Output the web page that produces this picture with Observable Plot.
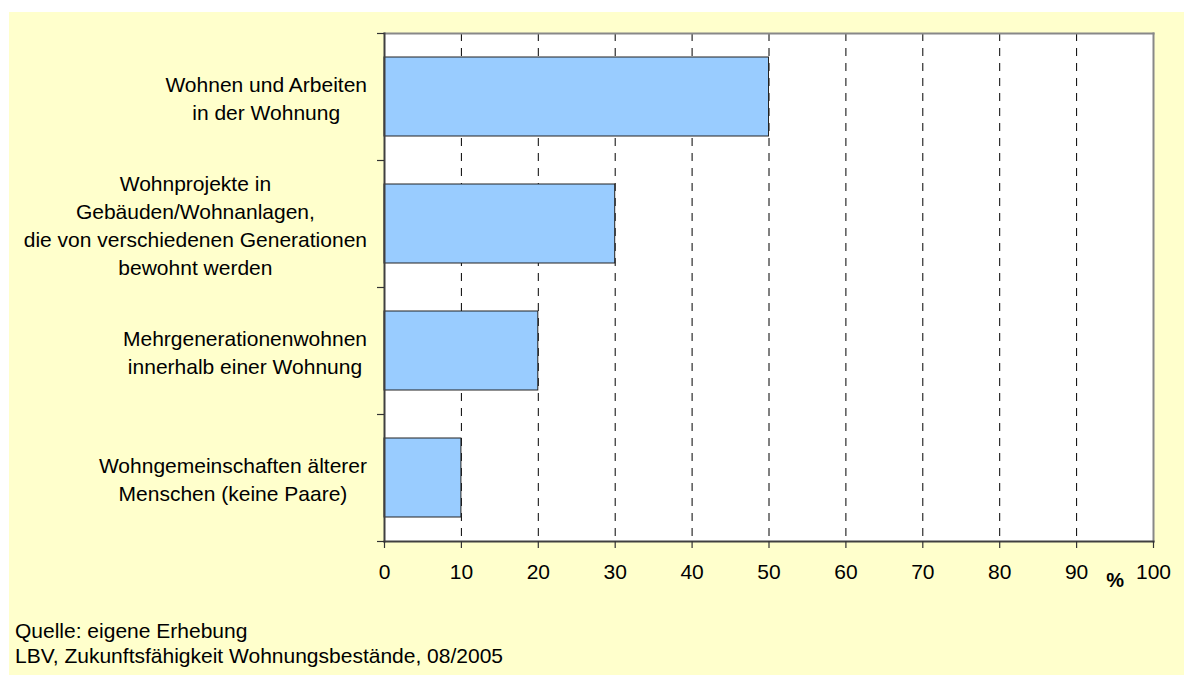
<!DOCTYPE html>
<html><head><meta charset="utf-8">
<script src="https://cdn.jsdelivr.net/npm/d3@7"></script>
<script src="https://cdn.jsdelivr.net/npm/@observablehq/plot@0.6"></script>
<style>
html,body{margin:0;padding:0;background:#fff;}
#chart{position:absolute;left:9px;top:12px;width:1175px;height:663px;background:#FFFFCC;font-family:"Liberation Sans",Arial,sans-serif;color:#000;}
#chart svg{display:block;}
#caption{margin:16px 0 0 6px;font-size:21px;line-height:25px;}
</style></head><body><div id="chart"></div>
<script>
const categories = [
  "Wohnen und Arbeiten\nin der Wohnung",
  "Wohnprojekte in\nGebäuden/Wohnanlagen,\ndie von verschiedenen Generationen\nbewohnt werden",
  "Mehrgenerationenwohnen\ninnerhalb einer Wohnung",
  "Wohngemeinschaften älterer\nMenschen (keine Paare)"
];
const values = [50, 30, 20, 10];
const xTicks = [0, 10, 20, 30, 40, 50, 60, 70, 80, 90, 100];
const gridTicks = [10, 20, 30, 40, 50, 60, 70, 80, 90];
const unitLabel = "%";
const sourceLines = ["Quelle: eigene Erhebung", "LBV, Zukunftsfähigkeit Wohnungsbestände, 08/2005"];

const data = categories.map((c, i) => ({category: c, value: values[i]}));

const W = 1175, H = 590, mL = 375, mR = 31, mT = 21, mB = H - 529;
const step = (H - mT - mB) / categories.length;
const pad = 0.378;
const font = "'Liberation Sans', Arial, sans-serif";

const plot = Plot.plot({
  width: W, height: H,
  marginLeft: mL, marginRight: mR, marginTop: mT, marginBottom: mB,
  style: {background: "transparent", fontFamily: font, fontSize: "21px", color: "#000", overflow: "visible"},
  x: {domain: [0, 100], label: null},
  y: {domain: categories, paddingInner: pad, paddingOuter: pad / 2, label: null},
  marks: [
    Plot.frame({fill: "#fff", stroke: null}),
    Plot.gridX(gridTicks, {stroke: "#000", strokeOpacity: 1, strokeWidth: 1, strokeDasharray: "8,7"}),
    Plot.barX(data, {x: "value", y: "category", fill: "#99CCFF", stroke: "#222", strokeWidth: 1}),
    Plot.frame({anchor: "top", stroke: "#888", strokeWidth: 2}),
    Plot.frame({anchor: "right", stroke: "#888", strokeWidth: 2}),
    Plot.frame({anchor: "left", stroke: "#404040", strokeWidth: 2}),
    Plot.frame({anchor: "bottom", stroke: "#404040", strokeWidth: 2}),
    Plot.axisX({ticks: xTicks, tickSize: 7, tickPadding: 16, stroke: "#333", strokeWidth: 1.2, fill: "#000", tickFormat: d => String(d), label: null}),
    Plot.axisY({tickSize: 7, tickFormat: () => "", dy: -step / 2, stroke: "#333", strokeWidth: 1.2, label: null}),
    Plot.axisY({ticks: [categories[categories.length - 1]], tickSize: 7, tickFormat: () => "", dy: step / 2, stroke: "#333", strokeWidth: 1.2, label: null}),
    Plot.text(data, {y: "category", text: "category", frameAnchor: "left", textAnchor: "middle", lineHeight: 1.33, fill: "#000", fontSize: 21}),
    Plot.text([unitLabel], {text: d => d, x: () => 95, frameAnchor: "bottom", lineAnchor: "bottom", dy: 45, fontWeight: "bold", fontSize: 20, fill: "#000"})
  ]
});

const chart = document.getElementById("chart");
chart.appendChild(plot);
const cap = document.createElement("div");
cap.id = "caption";
cap.innerHTML = sourceLines.map(s => `<div>${s}</div>`).join("");
chart.appendChild(cap);

// right-align each centered label block so its widest line ends 17px left of the axis
const flat = categories.map(c => c.replace(/\n/g, ""));
const targetRight = mL - 17;
const svgLeft = plot.getBoundingClientRect().left;
plot.querySelectorAll("text").forEach(t => {
  if (!flat.includes(t.textContent.replace(/\n/g, ""))) return;
  const r = t.getBoundingClientRect();
  const shift = targetRight - (r.right - svgLeft);
  const tr = t.getAttribute("transform") || "";
  t.setAttribute("transform", tr + ` translate(${shift},0)`);
});
</script></body></html>
